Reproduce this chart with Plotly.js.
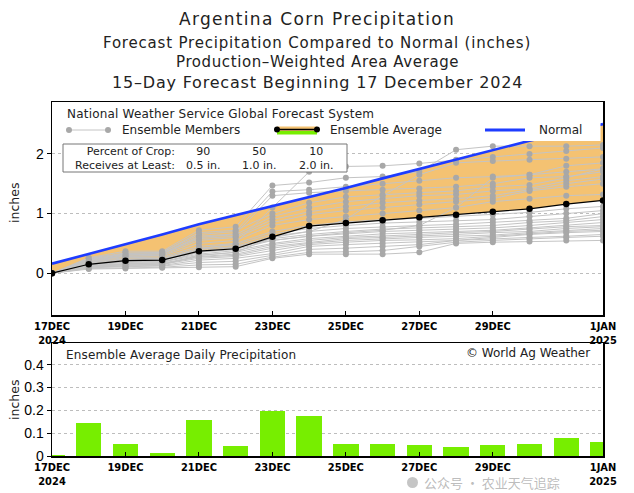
<!DOCTYPE html>
<html>
<head>
<meta charset="utf-8">
<script src="https://cdn.plot.ly/plotly-3.0.1.min.js"></script>
<style>html,body{margin:0;padding:0;background:#fff;}#chart{width:634px;height:493px;}</style>
</head>
<body>
<div id="chart"></div>
<script>
// ---------- DATA ----------
const dates = ['2024-12-17','2024-12-18','2024-12-19','2024-12-20','2024-12-21','2024-12-22','2024-12-23','2024-12-24',
               '2024-12-25','2024-12-26','2024-12-27','2024-12-28','2024-12-29','2024-12-30','2024-12-31','2025-01-01'];
const tickVals = ['2024-12-17','2024-12-19','2024-12-21','2024-12-23','2024-12-25','2024-12-27','2024-12-29','2025-01-01'];
const tickText = ['17DEC<br>2024','19DEC','21DEC','23DEC','25DEC','27DEC','29DEC','1JAN<br>2025'];

const normal      = [0.16,0.32,0.49,0.65,0.82,0.97,1.13,1.28,1.43,1.59,1.75,1.91,2.07,2.22,2.36,2.50];
const ensembleAvg = [0.00,0.15,0.21,0.22,0.37,0.41,0.61,0.79,0.84,0.89,0.94,0.98,1.03,1.08,1.16,1.22];
const dailyAvg    = [0.003,0.146,0.051,0.013,0.157,0.044,0.197,0.177,0.051,0.051,0.048,0.038,0.048,0.051,0.078,0.061];

const cropPercent = ['90','50','10'];
const cropAmount  = ['0.5 in.','1.0 in.','2.0 in.'];

const member01 = [0,0.26,0.37,0.37,0.72,0.78,1.47,1.52,1.60,1.62,1.70,2.07,2.13,2.13,2.13,2.15];
const member02 = [0,0.22,0.33,0.35,0.65,0.70,1.37,1.40,1.45,1.50,1.55,1.60,1.62,1.65,1.80,1.85];
const member03 = [0,0.18,0.30,0.33,0.62,0.66,1.30,1.35,1.38,1.40,1.42,1.45,1.50,1.60,1.62,1.70];
const member04 = [0,0.14,0.20,0.22,0.40,0.50,1.10,1.70,1.79,1.80,1.84,1.90,1.95,2.00,2.05,2.10];
const member05 = [0,0.21,0.28,0.29,0.50,0.55,0.80,0.90,0.95,1.00,1.05,1.10,1.20,1.25,1.30,1.32];
const member06 = [0,0.22,0.29,0.30,0.55,0.60,0.85,0.98,1.05,1.10,1.15,1.20,1.25,1.38,1.45,1.50];
const member07 = [0,0.23,0.31,0.32,0.58,0.62,0.90,1.03,1.12,1.18,1.22,1.25,1.30,1.40,1.50,1.58];
const member08 = [0,0.24,0.32,0.33,0.60,0.65,0.95,1.10,1.20,1.25,1.30,1.32,1.38,1.42,1.55,1.62];
const member09 = [0,0.25,0.34,0.35,0.68,0.72,1.00,1.18,1.28,1.32,1.35,1.38,1.45,1.48,1.60,1.75];
const member10 = [0,0.07,0.08,0.09,0.10,0.11,0.25,0.32,0.32,0.32,0.35,0.50,0.52,0.53,0.55,0.55];
const member11 = [0,0.08,0.09,0.10,0.14,0.15,0.27,0.35,0.36,0.38,0.45,0.52,0.55,0.58,0.60,0.62];
const member12 = [0,0.09,0.11,0.12,0.18,0.20,0.30,0.40,0.42,0.45,0.48,0.55,0.58,0.60,0.62,0.65];
const member13 = [0,0.10,0.12,0.13,0.22,0.25,0.33,0.45,0.48,0.50,0.52,0.55,0.60,0.65,0.68,0.70];
const member14 = [0,0.11,0.14,0.15,0.25,0.28,0.38,0.48,0.52,0.55,0.56,0.58,0.62,0.66,0.70,0.72];
const member15 = [0,0.12,0.15,0.16,0.27,0.30,0.42,0.50,0.55,0.58,0.60,0.62,0.64,0.68,0.72,0.75];
const member16 = [0,0.13,0.16,0.17,0.28,0.32,0.45,0.52,0.58,0.60,0.62,0.65,0.68,0.70,0.75,0.78];
const member17 = [0,0.14,0.18,0.19,0.30,0.35,0.48,0.55,0.60,0.62,0.65,0.68,0.70,0.74,0.78,0.80];
const member18 = [0,0.15,0.19,0.20,0.32,0.38,0.50,0.58,0.62,0.66,0.68,0.70,0.72,0.76,0.80,0.85];
const member19 = [0,0.16,0.20,0.22,0.35,0.40,0.55,0.62,0.66,0.70,0.72,0.74,0.76,0.80,0.85,0.90];
const member20 = [0,0.17,0.22,0.23,0.38,0.42,0.58,0.65,0.70,0.74,0.76,0.78,0.80,0.85,0.88,0.95];
const member21 = [0,0.18,0.23,0.24,0.40,0.45,0.62,0.70,0.75,0.78,0.80,0.82,0.85,0.88,0.92,1.00];
const member22 = [0,0.19,0.24,0.25,0.42,0.48,0.66,0.75,0.80,0.84,0.86,0.88,0.90,0.95,1.00,1.05];
const member23 = [0,0.20,0.26,0.27,0.45,0.50,0.70,0.80,0.86,0.90,0.92,0.95,0.98,1.02,1.08,1.12];
const member24 = [0,0.10,0.13,0.14,0.30,0.35,0.60,0.70,0.90,1.30,1.65,1.85,1.88,1.90,1.92,1.95];
const member25 = [0,0.12,0.16,0.18,0.35,0.45,0.55,0.62,0.68,0.72,0.80,1.10,1.60,1.65,1.70,1.75];
const members = [member01,member02,member03,member04,member05,member06,member07,member08,member09,member10,
                 member11,member12,member13,member14,member15,member16,member17,member18,member19,member20,
                 member21,member22,member23,member24,member25];

// ---------- LAYOUT HELPERS (pixel -> paper) ----------
const L = 52, R = 603, T = 102, B = 456;
const X = p => (p - L) / (R - L);
const Y = p => (B - p) / (B - T);

const ORANGE = '#F4C272', GREEN = '#77EE00', BLUE = '#1E3CFF', GRAY_L = '#c4c4c4', GRAY_M = '#a8a8a8';
const TXT = 'DejaVu Sans, sans-serif';

const traces = [];
traces.push({x: dates, y: normal, type: 'scatter', mode: 'lines', line: {width: 0, color: ORANGE},
             xaxis: 'x', yaxis: 'y', hoverinfo: 'skip', showlegend: false});
traces.push({x: dates, y: ensembleAvg, type: 'scatter', mode: 'lines', line: {width: 0, color: ORANGE},
             fill: 'tonexty', fillcolor: ORANGE, xaxis: 'x', yaxis: 'y', hoverinfo: 'skip', showlegend: false});
members.forEach(m => traces.push({x: dates, y: m, type: 'scatter', mode: 'lines+markers',
  line: {width: 1, color: GRAY_L}, marker: {size: 6, color: GRAY_M}, xaxis: 'x', yaxis: 'y', showlegend: false}));
traces.push({x: dates, y: ensembleAvg, type: 'scatter', mode: 'lines+markers',
  line: {width: 1.2, color: '#000'}, marker: {size: 6.5, color: '#000'}, xaxis: 'x', yaxis: 'y', showlegend: false});
traces.push({x: dates, y: normal, type: 'scatter', mode: 'lines',
  line: {width: 2.6, color: BLUE}, xaxis: 'x', yaxis: 'y', showlegend: false});
traces.push({x: dates, y: dailyAvg, type: 'bar', width: 0.69 * 86400000, marker: {color: GREEN, line: {width: 0}},
  xaxis: 'x2', yaxis: 'y2', showlegend: false});

const xCommon = {
  type: 'date', range: ['2024-12-17', '2025-01-01'], tickmode: 'array', tickvals: tickVals,
  ticktext: tickText.map(t => '<b>' + t + '</b>'),
  tickfont: {family: 'Liberation Sans Narrow, DejaVu Sans Condensed, Arial Narrow, sans-serif', size: 11, color: '#000'},
  ticks: 'inside', ticklen: 4, tickcolor: '#000', showgrid: false, zeroline: false,
  showline: true, linecolor: '#000', linewidth: 1.5, mirror: true, fixedrange: true
};
const yFont = {family: 'Liberation Sans, Arial, sans-serif', size: 14, color: '#000'};

const shapes = [];
const annotations = [];
// white legend box in upper panel
shapes.push({type: 'rect', xref: 'paper', yref: 'paper', x0: X(53), x1: X(600.5), y0: Y(141), y1: Y(102.8),
  fillcolor: '#fff', line: {width: 0}, layer: 'above'});
// members legend symbol
shapes.push({type: 'line', xref: 'paper', yref: 'paper', x0: X(69), x1: X(108), y0: Y(130), y1: Y(130), line: {color: GRAY_L, width: 1}, layer: 'above'});
[69,108].forEach(c => shapes.push({type: 'circle', xref: 'paper', yref: 'paper', x0: X(c-3), x1: X(c+3), y0: Y(133), y1: Y(127),
  fillcolor: GRAY_M, line: {width: 0}, layer: 'above'}));
// ensemble average legend symbol
shapes.push({type: 'rect', xref: 'paper', yref: 'paper', x0: X(277), x1: X(317), y0: Y(131), y1: Y(126.5), fillcolor: ORANGE, line: {width: 0}, layer: 'above'});
shapes.push({type: 'rect', xref: 'paper', yref: 'paper', x0: X(277), x1: X(317), y0: Y(134.5), y1: Y(131), fillcolor: GREEN, line: {width: 0}, layer: 'above'});
shapes.push({type: 'line', xref: 'paper', yref: 'paper', x0: X(277), x1: X(317), y0: Y(129.5), y1: Y(129.5), line: {color: '#000', width: 1.5}, layer: 'above'});
[277,317].forEach(c => shapes.push({type: 'circle', xref: 'paper', yref: 'paper', x0: X(c-3), x1: X(c+3), y0: Y(132.5), y1: Y(126.5),
  fillcolor: '#000', line: {width: 0}, layer: 'above'}));
// normal legend symbol
shapes.push({type: 'line', xref: 'paper', yref: 'paper', x0: X(485), x1: X(525), y0: Y(130), y1: Y(130), line: {color: BLUE, width: 3}, layer: 'above'});
// percent box
shapes.push({type: 'rect', xref: 'paper', yref: 'paper', x0: X(63), x1: X(347), y0: Y(172), y1: Y(144),
  fillcolor: '#fff', line: {width: 1, color: '#777'}, layer: 'above'});

function txt(text, px, py, size, anchor, ls, extra) {
  const t = ls ? '<span style="letter-spacing:' + ls + 'px">' + text + '</span>' : text;
  annotations.push(Object.assign({text: t, xref: 'paper', yref: 'paper', x: X(px), y: Y(py), showarrow: false,
    xanchor: anchor || 'left', yanchor: 'middle', font: {family: TXT, size: size, color: '#222'}}, extra || {}));
}
// titles
txt('Argentina Corn Precipitation', 317, 19, 17, 'center', 1.3);
txt('Forecast Precipitation Compared to Normal (inches)', 317, 43, 15, 'center', 0.8);
txt('Production–Weighted Area Average', 317, 62, 15, 'center', 0.6);
txt('15–Day Forecast Beginning 17 December 2024', 317, 82, 16, 'center', 0.8);
// legend texts
txt('National Weather Service Global Forecast System', 65, 114, 12, 'left', 0.2);
txt('Ensemble Members', 120, 130, 12);
txt('Ensemble Average', 328, 130, 12);
txt('Normal', 537, 130, 12);
// percent-of-crop table: one two-line text per column
txt('Percent of Crop:<br>Receives at Least:', 177, 158.3, 11, 'right', 0, {align: 'right'});
const colX = [203, 259, 316];
cropPercent.forEach((p, i) => txt(p + '<br>' + cropAmount[i], colX[i], 158.3, 11, 'center', 0, {align: 'center'}));
// lower panel texts
txt('Ensemble Average Daily Precipitation', 64, 355, 12, 'left', 0.15);
txt('© World Ag Weather', 592, 353, 12, 'right');
// y-axis titles
txt('inches', 14, 203, 12.5, 'center', 0, {textangle: -90});
txt('inches', 14, 400, 12.5, 'center', 0, {textangle: -90});
// watermark (placed below the tick labels so it does not collide with them)
shapes.push({type: 'circle', xref: 'paper', yref: 'paper', x0: X(407), x1: X(418), y0: Y(488), y1: Y(477),
  fillcolor: 'rgba(140,140,140,0.5)', line: {width: 0}, layer: 'above'});
annotations.push({text: '公众号 · 农业天气追踪', xref: 'paper', yref: 'paper', x: X(422), y: Y(482.5), showarrow: false,
  xanchor: 'left', yanchor: 'middle', font: {family: 'Noto Sans CJK SC, sans-serif', size: 13, color: 'rgba(150,150,150,0.65)'}});

const layout = {
  width: 634, height: 493, paper_bgcolor: '#fff', plot_bgcolor: '#fff', showlegend: false,
  margin: {l: L, r: 634 - R, t: T, b: 493 - B},
  xaxis: Object.assign({}, xCommon, {anchor: 'y'}),
  xaxis2: Object.assign({}, xCommon, {anchor: 'y2'}),
  yaxis: {domain: [Y(315), 1], range: [-0.70, 2.87], tickmode: 'array', tickvals: [0,1,2], ticktext: ['0','1','2'],
    ticks: 'outside', ticklen: 4, tickcolor: '#000', tickfont: yFont, showgrid: true, gridcolor: '#bdbdbd', griddash: 'dot',
    gridwidth: 1, zeroline: false, showline: true, linecolor: '#000', linewidth: 1.5, mirror: true, fixedrange: true},
  yaxis2: {domain: [0, Y(343.3)], range: [0, 0.494], tickmode: 'array', tickvals: [0,0.1,0.2,0.3,0.4],
    ticktext: ['0','0.1','0.2','0.3','0.4'], ticks: 'outside', ticklen: 4, tickcolor: '#000', tickfont: yFont,
    showgrid: true, gridcolor: '#bdbdbd', griddash: 'dot', gridwidth: 1, zeroline: false,
    showline: true, linecolor: '#000', linewidth: 1.5, mirror: true, fixedrange: true},
  shapes: shapes, annotations: annotations, bargap: 0
};

Plotly.newPlot('chart', traces, layout, {staticPlot: true, displayModeBar: false});
</script>
</body>
</html>
